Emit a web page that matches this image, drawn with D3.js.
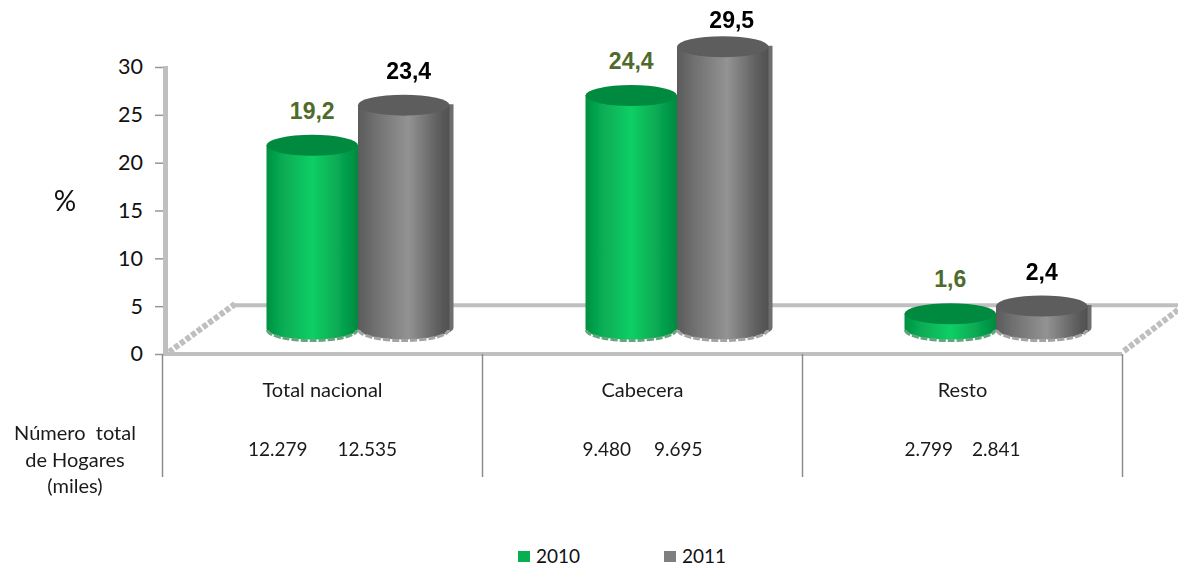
<!DOCTYPE html>
<html><head><meta charset="utf-8">
<script src="https://cdn.jsdelivr.net/npm/d3@7/dist/d3.min.js"></script>
<style>html,body{margin:0;background:#fff}svg{display:block}</style></head>
<body><svg id="c" width="1178" height="566"></svg>
<script>
const categories = ["Total nacional","Cabecera","Resto"];
const series = ["2010","2011"];
const values2010 = [19.2,24.4,1.6];
const values2011 = [23.4,29.5,2.4];
const labels2010 = ["19,2","24,4","1,6"];
const labels2011 = ["23,4","29,5","2,4"];
const households2010 = ["12.279","9.480","2.799"];
const households2011 = ["12.535","9.695","2.841"];
const yTicks = [0,5,10,15,20,25,30];
const rowLabel = ["Número  total","de Hogares","(miles)"];

const W=1178,H=566;
const svg=d3.select("#c");
const font="Lato, 'Open Sans', sans-serif", bold="'Liberation Sans', Arial, sans-serif";
const x=d3.scaleBand().domain(categories).range([164.5,1121.5]);
const xTable=d3.scaleBand().domain(categories).range([162.5,1122.5]);
const y=d3.scaleLinear().domain([0,30]).range([354,67]);
const bw=91.5, rx=bw/2, ry=10.5;
const baseY=329;
const shiftX=34;
const inner=d3.scaleBand().domain(series).range([-bw,bw]);
const unit=y(0)-y(1);

const defs=svg.append("defs");
function grad(id,stops){
  const g=defs.append("linearGradient").attr("id",id);
  stops.forEach(([o,c])=>g.append("stop").attr("offset",o).attr("stop-color",c));
}
grad("g2010",[[0,"#05903f"],[.12,"#06a550"],[.5,"#0bcf65"],[.85,"#06a04e"],[1,"#008a40"]]);
grad("g2011",[[0,"#5b5b5b"],[.15,"#6c6c6c"],[.55,"#939393"],[.88,"#5e5e5e"],[1,"#505050"]]);
const soft=defs.append("filter").attr("id","soft");
soft.append("feGaussianBlur").attr("stdDeviation",.45);
const softer=defs.append("filter").attr("id","shadow").attr("x","-20%").attr("width","140%");
softer.append("feGaussianBlur").attr("stdDeviation",.6);

const line="#bfbfbf";
// walls and floor
const wall=svg.append("g").attr("fill","none").attr("stroke",line);
wall.append("line").attr("x1",165.5).attr("x2",165.5).attr("y1",y(30)-1).attr("y2",y(0)).attr("stroke-width",5);
wall.append("line").attr("x1",163).attr("x2",1122).attr("y1",y(0)).attr("y2",y(0)).attr("stroke-width",4);
wall.append("line").attr("x1",234).attr("x2",W).attr("y1",y(5)-1).attr("y2",y(5)-1).attr("stroke-width",4);
wall.append("line").attr("x1",169).attr("y1",352).attr("x2",235).attr("y2",304).attr("stroke-width",6).attr("stroke-dasharray","5 2");
wall.append("line").attr("x1",1124).attr("y1",351).attr("x2",W).attr("y2",310).attr("stroke-width",6).attr("stroke-dasharray","5 2");

// y axis
const axis=svg.append("g").attr("transform","translate(163,0)")
  .call(d3.axisLeft(y).tickValues(yTicks).tickSize(8).tickPadding(12).tickSizeOuter(0));
axis.select(".domain").remove();
axis.selectAll("line").attr("stroke","#969696").attr("stroke-width",1.5);
axis.selectAll("text").attr("font-family",font).attr("font-size",21.5).attr("fill","#111");

// table dividers
svg.append("g").selectAll("line").data([...categories.map(c=>xTable(c)),xTable.range()[1]]).join("line")
  .attr("x1",d=>d).attr("x2",d=>d).attr("y1",354).attr("y2",477)
  .attr("stroke","#8c8c8c").attr("stroke-width",1.5);

// cylinders
function cylinders(key,vals,labs,labColor){
  const g=svg.append("g").attr("filter","url(#soft)");
  categories.forEach((c,i)=>{
    const cx=x(c)+x.bandwidth()/2+shiftX+inner(key)+inner.bandwidth()/2;
    const h=vals[i]*unit, top=baseY-h;
    const body=`M${cx-rx},${top}L${cx-rx},${baseY}A${rx},${ry} 0 0 0 ${cx+rx},${baseY}L${cx+rx},${top}Z`;
    if(key==="2011"){
      g.append("path").attr("d",body).attr("transform","translate(4,-1)").attr("fill","#6e6e6e").attr("filter","url(#shadow)");
    }
    g.append("path").attr("d",body).attr("fill",`url(#g${key})`);
    g.append("path").attr("d",`M${cx-rx+1},${baseY+1}A${rx-1},${ry} 0 0 0 ${cx+rx-1},${baseY+1}`)
      .attr("fill","none").attr("stroke",key==="2010"?"#63a57d":"#a3a3a3").attr("stroke-width",3).attr("stroke-dasharray","7 2");
    g.append("ellipse").attr("cx",cx).attr("cy",top).attr("rx",rx).attr("ry",ry)
      .attr("fill",key==="2010"?"#038a40":"#5d5d5d");
    const clipped=top-26<30;
    svg.append("text").attr("x",cx+(clipped?9:(key==="2011"&&i===0?5:0))).attr("y",clipped?28:top-26.5)
      .attr("text-anchor","middle").attr("font-family",bold).attr("font-weight","bold").attr("font-size",23)
      .attr("fill",labColor).text(labs[i]);
  });
}
cylinders("2010",values2010,labels2010,"#4f6b2c");
cylinders("2011",values2011,labels2011,"#000");

// table text
const tableColor="#1a1a1a";
svg.append("g").selectAll("text").data(categories).join("text")
  .attr("x",d=>xTable(d)+xTable.bandwidth()/2).attr("y",397).attr("text-anchor","middle")
  .attr("font-family",font).attr("font-size",20).attr("fill",tableColor).text(d=>d);
const householdGaps=[30,23,19];
categories.forEach((c,i)=>{
  const mid=xTable(c)+xTable.bandwidth()/2;
  svg.append("text").attr("y",456).attr("x",mid-householdGaps[i]/2).attr("text-anchor","end")
    .attr("font-family",font).attr("font-size",19).attr("fill",tableColor).text(households2010[i]);
  svg.append("text").attr("y",456).attr("x",mid+householdGaps[i]/2)
    .attr("font-family",font).attr("font-size",19).attr("fill",tableColor).text(households2011[i]);
});
svg.append("g").selectAll("text").data(rowLabel).join("text")
  .attr("x",75).attr("y",(d,i)=>440+i*26.5).attr("text-anchor","middle").style("white-space","pre")
  .attr("font-family",font).attr("font-size",20).attr("fill",tableColor).text(d=>d);

svg.append("text").attr("x",65).attr("y",211).attr("text-anchor","middle")
  .attr("font-family",font).attr("font-size",28).attr("fill","#111").text("%");

// legend
const legendX=d3.scalePoint().domain(series).range([518,664]);
const colors=d3.scaleOrdinal().domain(series).range(["#06b050","#7f7f7f"]);
const lg=svg.append("g").selectAll("g").data(series).join("g").attr("transform",d=>`translate(${legendX(d)},0)`);
lg.append("rect").attr("y",551).attr("width",12).attr("height",11).attr("fill",d=>colors(d));
lg.append("text").attr("x",18).attr("y",563).attr("font-family",font).attr("font-size",19).attr("fill","#111").text(d=>d);
</script></body></html>
